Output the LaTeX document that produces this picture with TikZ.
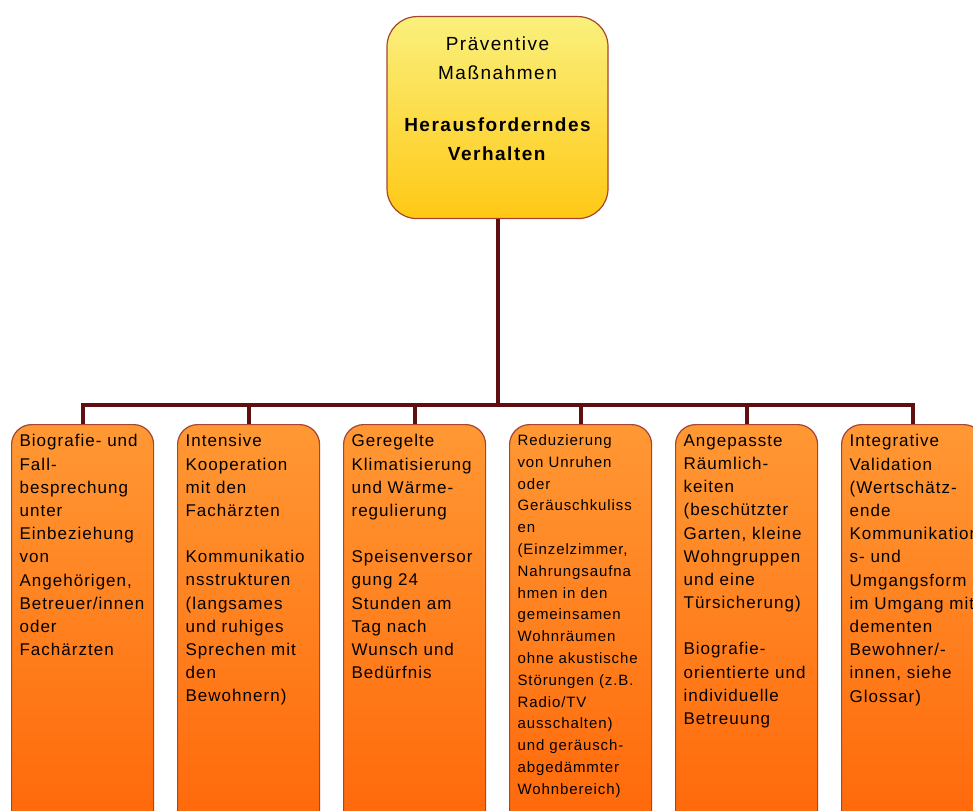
\documentclass[tikz,border=0pt]{standalone}
\usepackage{fontspec}
\setmainfont{Liberation Sans}
\newfontfamily\pmfont[LetterSpace=6]{Liberation Sans}
\newfontfamily\pmheadfont[LetterSpace=8]{Liberation Sans}
\usetikzlibrary{
  positioning,
  calc
}
\definecolor{pmGoldTop}{RGB}{250,240,125}
\definecolor{pmGoldBottom}{RGB}{255,200,20}
\definecolor{pmOrangeTop}{RGB}{255,152,52}
\definecolor{pmOrangeBottom}{RGB}{255,102,8}
\definecolor{pmFrame}{RGB}{165,70,50}
\definecolor{pmLine}{RGB}{95,15,15}
\tikzset{
  pmhead/.style={
    draw=pmFrame,
    line width=1.2pt,
    rounded corners=30pt,
    top color=pmGoldTop,
    bottom color=pmGoldBottom,
    inner xsep=10.5pt,
    inner ysep=20pt,
    font=\pmheadfont\fontsize{19}{29}\selectfont
  },
  pmitem/.style={
    draw=pmFrame,
    line width=1.2pt,
    rounded corners=20pt,
    top color=pmOrangeTop,
    bottom color=pmOrangeBottom,
    inner xsep=8pt,
    inner ysep=10pt,
    font=\pmfont\fontsize{17}{23.2}\selectfont
  },
  pmsmall/.style={
    font=\pmfont\fontsize{15}{21.8}\selectfont
  },
  pmconn/.style={
    draw=pmLine,
    line width=4pt
  }
}
\newcommand{\pmcol}[1]{\parbox[t][400pt][t]{126pt}{\raggedright #1}}

\begin{document}
\begin{tikzpicture}[x=1pt,y=-1pt]
  \useasboundingbox (0,0) rectangle (973,810);
  \fill[white] (0,0) rectangle (973,810);
  \clip (0,0) rectangle (973,810);

  \node[pmhead, anchor=north] (top) at (497.5,16)
    {\parbox[t][162pt][t]{200pt}{\centering Präventive\\Maßnahmen\\[23pt]%
     \textbf{Herausforderndes\\Verhalten}}};

  \node[pmitem, anchor=north west] (b1) at (11,424)
    {\pmcol{Biografie- und\\Fall-\\besprechung\\unter\\Einbeziehung\\von\\Angehörigen,\\Betreuer/innen\\oder\\Fachärzten}};
  \node[pmitem, right=22.8pt of b1] (b2)
    {\pmcol{Intensive\\Kooperation\\mit den\\Fachärzten\\[23pt]Kommunikatio\\nsstrukturen\\(langsames\\und ruhiges\\Sprechen mit\\den\\Bewohnern)}};
  \node[pmitem, right=22.8pt of b2] (b3)
    {\pmcol{Geregelte\\Klimatisierung\\und Wärme-\\regulierung\\[23pt]Speisenversor\\gung 24\\Stunden am\\Tag nach\\Wunsch und\\Bedürfnis}};
  \node[pmitem, pmsmall, right=22.8pt of b3] (b4)
    {\pmcol{Reduzierung\\von Unruhen\\oder\\Geräuschkuliss\\en\\(Einzelzimmer,\\Nahrungsaufna\\hmen in den\\gemeinsamen\\Wohnräumen\\ohne akustische\\Störungen (z.B.\\Radio/TV\\ausschalten)\\und geräusch-\\abgedämmter\\Wohnbereich)}};
  \node[pmitem, right=22.8pt of b4] (b5)
    {\pmcol{Angepasste\\Räumlich-\\keiten\\(beschützter\\Garten, kleine\\Wohngruppen\\und eine\\Türsicherung)\\[23pt]Biografie-\\orientierte und\\individuelle\\Betreuung}};
  \node[pmitem, right=22.8pt of b5] (b6)
    {\pmcol{Integrative\\Validation\\(Wertschätz-\\ende\\Kommunikation\\s- und\\Umgangsform\\im Umgang mit\\dementen\\Bewohner/-\\innen, siehe\\Glossar)}};

  % tree connectors
  \coordinate (bus) at (497.5,405);
  \foreach \n in {1,...,6}
    \draw[pmconn] (top.south) -- (top.south |- bus) -| (b\n.north);
\end{tikzpicture}
\end{document}
